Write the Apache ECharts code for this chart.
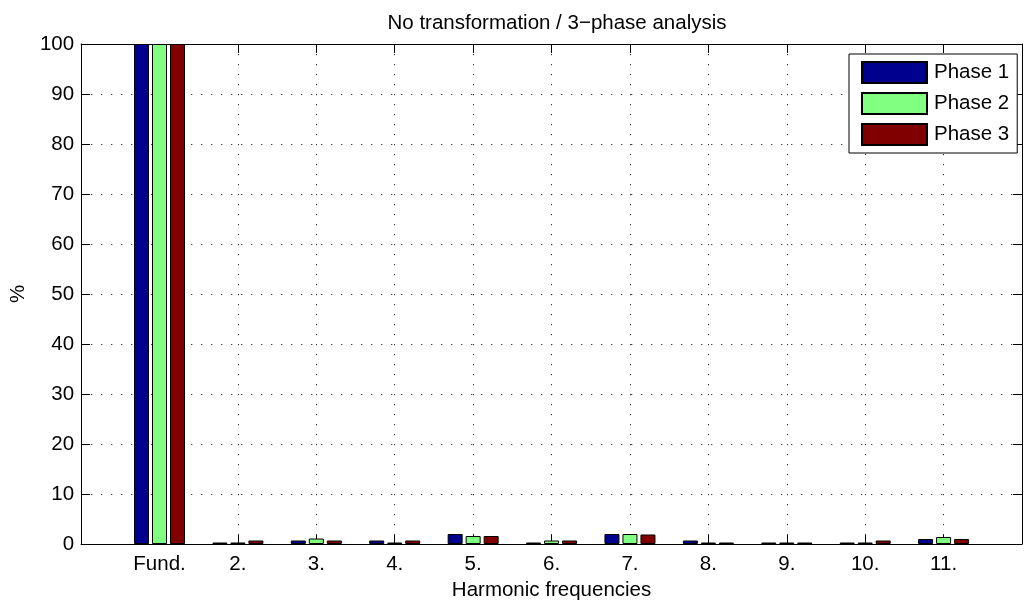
<!DOCTYPE html>
<html>
<head>
<meta charset="utf-8">
<script src="https://cdn.jsdelivr.net/npm/echarts@6/dist/echarts.min.js"></script>
<style>
html,body{margin:0;padding:0;background:#fff;}
#chart{width:1025px;height:606px;}
</style>
</head>
<body>
<div id="chart"></div>
<script>
const categories = ['Fund.', '2.', '3.', '4.', '5.', '6.', '7.', '8.', '9.', '10.', '11.'];
const phase1 = [100, 0.3, 0.7, 0.7, 2.0, 0.3, 2.0, 0.7, 0.3, 0.3, 1.0];
const phase2 = [100, 0.3, 1.1, 0.3, 1.6, 0.7, 2.0, 0.3, 0.3, 0.3, 1.4];
const phase3 = [100, 0.7, 0.7, 0.7, 1.6, 0.7, 1.9, 0.3, 0.3, 0.7, 1.0];
const seriesNames = ['Phase 1', 'Phase 2', 'Phase 3'];
const yTicks = [0, 10, 20, 30, 40, 50, 60, 70, 80, 90, 100];

const FONT = "'Liberation Sans', Arial, Helvetica, sans-serif";
const FS = 20.5;
const colors = ['#00008F', '#80FF80', '#800000'];

const toPairs = arr => arr.map((v, i) => [i + 1, v]);

const chart = echarts.init(document.getElementById('chart'), null, {renderer: 'canvas'});
const dotted = {color: '#333', width: 1, type: [1.2, 8.8]};

const option = {
  animation: false,
  backgroundColor: '#fff',
  textStyle: {fontFamily: FONT},
  title: {
    text: 'No transformation / 3\u2212phase analysis',
    left: 552, top: 8, textAlign: 'center',
    textStyle: {fontFamily: FONT, fontSize: FS, fontWeight: 'normal', color: '#000'}
  },
  legend: {
    data: seriesNames,
    orient: 'vertical',
    left: 849, top: 54,
    icon: 'rect',
    itemWidth: 65, itemHeight: 21, itemGap: 8,
    padding: [7, 8, 7, 12],
    borderColor: '#000', borderWidth: 1,
    backgroundColor: '#fff',
    textStyle: {fontFamily: FONT, fontSize: FS, color: '#000', padding: [0, 0, 0, 2]}
  },
  grid: {left: 81, right: 1, top: 44, bottom: 62, containLabel: false},
  xAxis: [{
    type: 'value', min: 0, max: 12, interval: 1, position: 'bottom',
    name: 'Harmonic frequencies', nameLocation: 'middle', nameGap: 36,
    nameTextStyle: {fontFamily: FONT, fontSize: FS, color: '#000'},
    axisLine: {show: true, onZero: false, lineStyle: {color: '#000', width: 1}},
    axisTick: {show: true, inside: true, length: 9, lineStyle: {color: '#000'}},
    axisLabel: {
      show: true, margin: 10, color: '#000', fontFamily: FONT, fontSize: FS,
      formatter: v => (v >= 1 && v <= categories.length) ? categories[v - 1] : ''
    },
    splitLine: {show: true, lineStyle: dotted}
  }, {
    type: 'value', min: 0, max: 12, interval: 1, position: 'top',
    axisLine: {show: true, onZero: false, lineStyle: {color: '#000', width: 1}},
    axisTick: {show: true, inside: true, length: 9, lineStyle: {color: '#000'}},
    axisLabel: {show: false},
    splitLine: {show: false}
  }],
  yAxis: [{
    type: 'value', min: 0, max: 100, interval: 10, position: 'left',
    name: '%', nameLocation: 'middle', nameGap: 52, nameRotate: 90,
    nameTextStyle: {fontFamily: FONT, fontSize: FS, color: '#000'},
    axisLine: {show: true, onZero: false, lineStyle: {color: '#000', width: 1}},
    axisTick: {show: true, inside: true, length: 9, lineStyle: {color: '#000'}},
    axisLabel: {
      show: true, margin: 7, color: '#000', fontFamily: FONT, fontSize: FS,
      formatter: v => (yTicks.indexOf(v) >= 0 ? String(v) : '')
    },
    splitLine: {show: true, lineStyle: dotted}
  }, {
    type: 'value', min: 0, max: 100, interval: 10, position: 'right',
    axisLine: {show: true, onZero: false, lineStyle: {color: '#000', width: 1}},
    axisTick: {show: true, inside: true, length: 9, lineStyle: {color: '#000'}},
    axisLabel: {show: false},
    splitLine: {show: false}
  }],
  series: [phase1, phase2, phase3].map((arr, k) => ({
    name: seriesNames[k],
    type: 'bar',
    xAxisIndex: 0, yAxisIndex: 0,
    data: toPairs(arr),
    barWidth: 15,
    barGap: '20%',
    itemStyle: {color: colors[k], borderColor: '#000', borderWidth: 1}
  }))
};
chart.setOption(option);
</script>
</body>
</html>
